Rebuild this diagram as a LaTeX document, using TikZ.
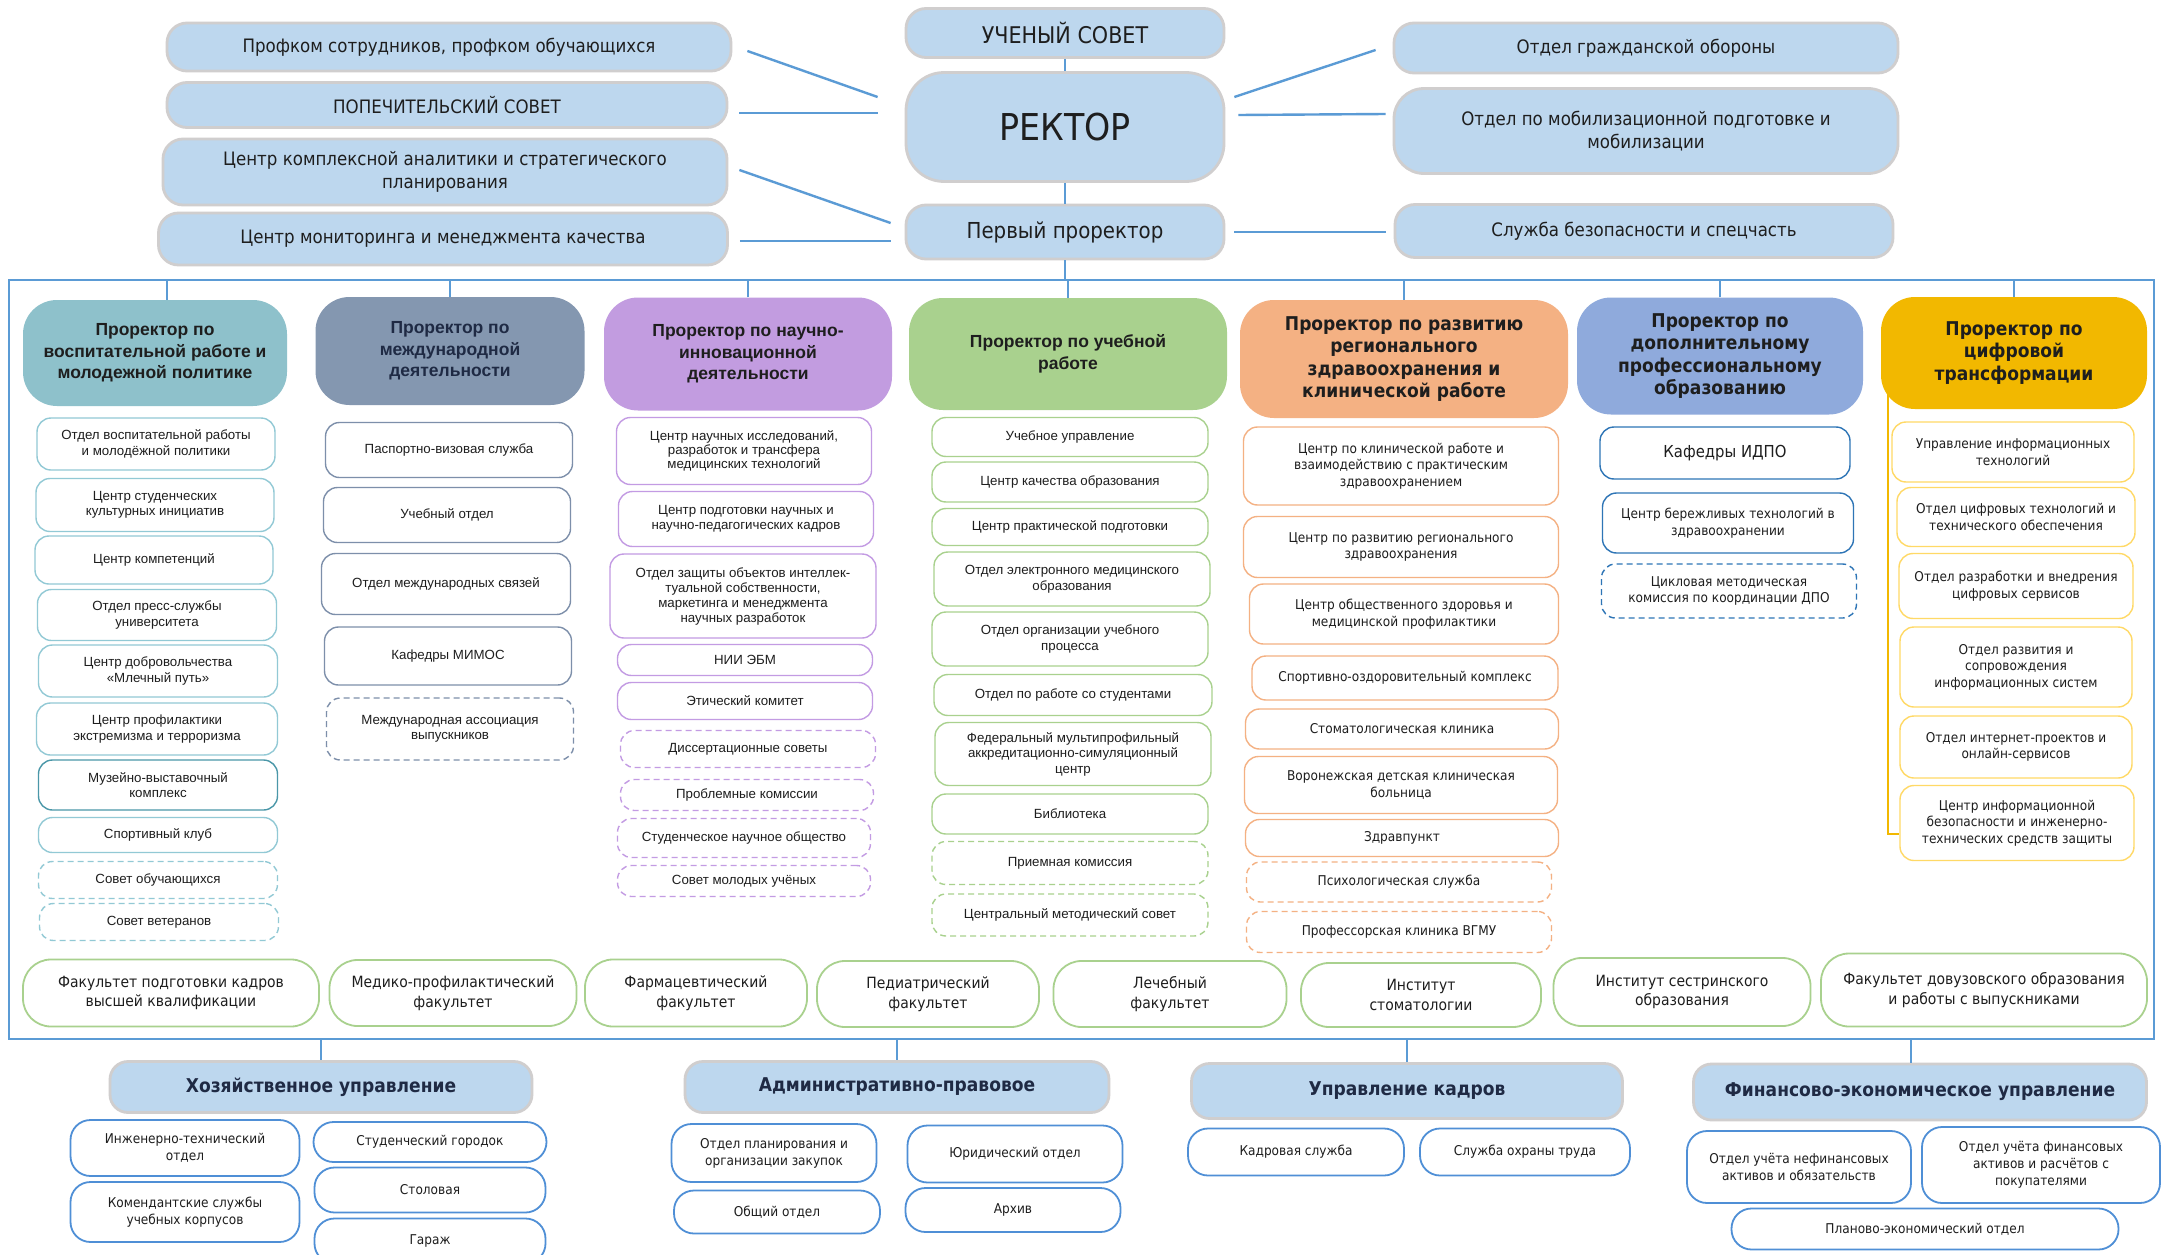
\documentclass[tikz,border=0pt]{standalone}
\usepackage{fontspec}
\newfontfamily\dvs{Liberation Sans}
\newfontfamily\dvc[FakeStretch=0.9]{DejaVu Sans}
\usetikzlibrary{calc}
\newcommand\fsz[2]{\fontsize{#1}{#2}\selectfont}
\definecolor{txt}{HTML}{1E1E1E}
\definecolor{topfill}{HTML}{BDD7EE}
\definecolor{topborder}{HTML}{D0CECE}
\definecolor{connblue}{HTML}{5B9BD5}
\definecolor{hA}{HTML}{8EC1CB}
\definecolor{hB}{HTML}{8497B0}
\definecolor{hC}{HTML}{C29CE0}
\definecolor{hD}{HTML}{A9D18E}
\definecolor{hE}{HTML}{F4B183}
\definecolor{hF}{HTML}{8FAADC}
\definecolor{hG}{HTML}{F2B800}
\definecolor{oA}{HTML}{92C9D5}
\definecolor{oAd}{HTML}{4A97A8}
\definecolor{oB}{HTML}{7D8FAA}
\definecolor{oC}{HTML}{C39BE3}
\definecolor{oD}{HTML}{A9D18E}
\definecolor{oE}{HTML}{F4B183}
\definecolor{oF}{HTML}{2E75B6}
\definecolor{oG}{HTML}{FFD966}
\definecolor{botline}{HTML}{4F8FD6}
\definecolor{navy}{HTML}{1F2A44}
\begin{document}
\begin{tikzpicture}[x=1pt,y=-1pt,
  sz/.style 2 args={minimum width=#1pt,minimum height=#2pt},
  topbox/.style={draw=topborder,line width=2.8pt,fill=topfill,rounded corners=20pt,align=center,inner sep=2pt,text=txt,font=\dvc\fsz{18.5}{22.5}},
  hdr/.style={fill=#1,draw=none,rounded corners=34pt,align=center,inner sep=2pt,text=txt},
  hdrL/.style={hdr=#1,font=\dvs\bfseries\fsz{17.5}{21.5}},
  hdrR/.style={hdr=#1,font=\dvc\bfseries\fsz{19}{22.6}},
  child/.style={draw=#1,fill=white,line width=1.4pt,rounded corners=14pt,align=center,inner sep=2pt,text=txt},
  chL/.style={child=#1,font=\dvs\fsz{13.3}{15.5}},
  chR/.style={child=#1,font=\dvc\fsz{13.5}{16.5}},
  dsh/.style={dash pattern=on 6pt off 4pt},
  fac/.style={draw=oD,fill=white,line width=1.8pt,rounded corners=28pt,align=center,inner sep=2pt,text=txt,font=\dvc\fsz{15.5}{19.5}},
  bhdr/.style={draw=topborder,line width=2.8pt,fill=topfill,rounded corners=18pt,align=center,inner sep=2pt,text=navy,font=\dvc\bfseries\fsz{19}{22}},
  bch/.style={draw=botline,fill=white,line width=1.8pt,rounded corners=20pt,align=center,inner sep=2pt,text=txt,font=\dvc\fsz{13.5}{17}},
  conn/.style={draw=connblue,line width=2.4pt},
  frame/.style={draw=connblue,line width=2.2pt},
  goldline/.style={draw=hG,line width=2.6pt}]
\useasboundingbox (0,0) rectangle (2161,1255);
\fill[white] (0,0) rectangle (2161,1255);

% ---------- top ----------
\node[topbox,sz={318}{49},font=\dvc\fsz{23}{27}] (uch) at (1065,33) {УЧЕНЫЙ СОВЕТ};
\node[topbox,sz={318}{109},rounded corners=38pt,font=\dvc\fsz{37}{40}] (rect) at (1065,127) {РЕКТОР};
\node[topbox,sz={318}{54},font=\dvc\fsz{22}{26}] (first) at (1065,232) {Первый проректор};

\node[topbox,sz={564}{48}] (profkom) at (449,47) {Профком сотрудников, профком обучающихся};
\node[topbox,sz={560}{45}] (popech) at (447,105) {ПОПЕЧИТЕЛЬСКИЙ СОВЕТ};
\node[topbox,sz={564}{66}] (analit) at (445,172) {Центр комплексной аналитики и стратегического\\планирования};
\node[topbox,sz={569}{52}] (monit) at (443,239) {Центр мониторинга и менеджмента качества};

\node[topbox,sz={504}{50}] (go) at (1646,48) {Отдел гражданской обороны};
\node[topbox,sz={504}{85},rounded corners=30pt] (mobil) at (1646,131) {Отдел по мобилизационной подготовке и\\мобилизации};
\node[topbox,sz={498}{53}] (secur) at (1644,231) {Служба безопасности и спецчасть};

\draw[conn] (uch.south) -- (rect.north);
\draw[conn] (rect.south) -- (first.north);
\draw[conn] ([xshift=15pt,yshift=-4pt]profkom.east) -- ([xshift=-27pt,yshift=30pt]rect.west);
\draw[conn] ([xshift=11pt,yshift=-8pt]popech.east) -- ([xshift=-27pt,yshift=14pt]rect.west);
\draw[conn] ([xshift=11pt,yshift=2pt]analit.east) -- ([xshift=-14pt,yshift=9pt]first.west);
\draw[conn] ([xshift=11pt,yshift=-2pt]monit.east) -- ([xshift=-14pt,yshift=-9pt]first.west);
\draw[conn] ([xshift=9pt,yshift=30pt]rect.east) -- ([xshift=-17pt,yshift=-2pt]go.west);
\draw[conn] ([xshift=13pt,yshift=12pt]rect.east) -- ([xshift=-7pt,yshift=17pt]mobil.west);
\draw[conn] ([xshift=9pt]first.east) -- ([xshift=-8pt,yshift=-1pt]secur.west);

% ---------- frame ----------
\coordinate (ftop) at (9,280);
\coordinate (fbot) at (2154,1039);
\draw[frame] (ftop) rectangle (fbot);
\draw[conn] (first.south) -- (first.south |- ftop);

% ---------- headers ----------
\node[hdrL=hA,sz={264}{106}] (h1) at (155,353) {Проректор по\\воспитательной работе и\\молодежной политике};
\node[hdrL=hB,sz={269}{108},text=navy] (h2) at (450,351) {Проректор по\\международной\\деятельности};
\node[hdrL=hC,sz={288}{113}] (h3) at (748,354) {Проректор по научно-\\инновационной\\деятельности};
\node[hdrL=hD,sz={318}{112}] (h4) at (1068,354) {Проректор по учебной\\работе};
\node[hdrR=hE,sz={328}{118}] (h5) at (1404,359) {Проректор по развитию\\регионального\\здравоохранения и\\клинической работе};
\node[hdrR=hF,sz={286}{117}] (h6) at (1720,356) {Проректор по\\дополнительному\\профессиональному\\образованию};
\node[hdrR=hG,sz={266}{112}] (h7) at (2014,353) {Проректор по\\цифровой\\трансформации};

\draw[conn] ([xshift=12pt]h1.north) -- ++(0,-20);
\foreach \h in {h2,h3,h4,h5,h6,h7} \draw[conn] (\h.north) -- (\h.north |- ftop);

% ---------- column 1 ----------
\node[chL=oA,sz={238}{52}] (c1a) at (156,444) {Отдел воспитательной работы\\и молодёжной политики};
\node[chL=oA,sz={238}{53}] (c1b) at (155,505) {Центр студенческих\\культурных инициатив};
\node[chL=oA,sz={238}{48}] (c1c) at (154,560) {Центр компетенций};
\node[chL=oA,sz={239}{51}] (c1d) at (157,615) {Отдел пресс-службы\\университета};
\node[chL=oA,sz={239}{52}] (c1e) at (158,671) {Центр добровольчества\\«Млечный путь»};
\node[chL=oA,sz={241}{52}] (c1f) at (157,729) {Центр профилактики\\экстремизма и терроризма};
\node[chL=oAd,sz={239}{50}] (c1g) at (158,785) {Музейно-выставочный\\комплекс};
\node[chL=oA,sz={239}{35}] (c1h) at (158,835) {Спортивный клуб};
\node[chL=oA,dsh,sz={239}{37}] (c1i) at (158,880) {Совет обучающихся};
\node[chL=oA,dsh,sz={239}{37}] (c1j) at (159,922) {Совет ветеранов};

% ---------- column 2 ----------
\node[chL=oB,sz={247}{55}] (c2a) at (449,450) {Паспортно-визовая служба};
\node[chL=oB,sz={247}{55}] (c2b) at (447,515) {Учебный отдел};
\node[chL=oB,sz={249}{61}] (c2c) at (446,584) {Отдел международных связей};
\node[chL=oB,sz={247}{58}] (c2d) at (448,656) {Кафедры МИМОС};
\node[chL=oB,dsh,sz={247}{62}] (c2e) at (450,729) {Международная ассоциация\\выпускников};

% ---------- column 3 ----------
\node[chL=oC,sz={255}{67},font=\dvs\fsz{13.3}{14}] (c3a) at (744,451) {Центр научных исследований,\\разработок и трансфера\\медицинских технологий};
\node[chL=oC,sz={255}{55}] (c3b) at (746,519) {Центр подготовки научных и\\научно-педагогических кадров};
\node[chL=oC,sz={266}{84},font=\dvs\fsz{13.3}{15}] (c3c) at (743,596) {Отдел защиты объектов интеллек-\\туальной собственности,\\маркетинга и менеджмента\\научных разработок};
\node[chL=oC,sz={255}{31}] (c3d) at (745,660) {НИИ ЭБМ};
\node[chL=oC,sz={255}{37}] (c3e) at (745,701) {Этический комитет};
\node[chL=oC,dsh,sz={255}{37}] (c3f) at (748,749) {Диссертационные советы};
\node[chL=oC,dsh,sz={253}{31}] (c3g) at (747,795) {Проблемные комиссии};
\node[chL=oC,dsh,sz={253}{39}] (c3h) at (744,838) {Студенческое научное общество};
\node[chL=oC,dsh,sz={253}{31}] (c3i) at (744,881) {Совет молодых учёных};

% ---------- column 4 ----------
\node[chL=oD,sz={276}{39}] (c4a) at (1070,437) {Учебное управление};
\node[chL=oD,sz={276}{40}] (c4b) at (1070,482) {Центр качества образования};
\node[chL=oD,sz={276}{37}] (c4c) at (1070,527) {Центр практической подготовки};
\node[chL=oD,sz={276}{54}] (c4d) at (1072,579) {Отдел электронного медицинского\\образования};
\node[chL=oD,sz={276}{54}] (c4e) at (1070,639) {Отдел организации учебного\\процесса};
\node[chL=oD,sz={278}{41}] (c4f) at (1073,695) {Отдел по работе со студентами};
\node[chL=oD,sz={276}{63}] (c4g) at (1073,754) {Федеральный мультипрофильный\\аккредитационно-симуляционный\\центр};
\node[chL=oD,sz={276}{40}] (c4h) at (1070,814) {Библиотека};
\node[chL=oD,dsh,sz={276}{43}] (c4i) at (1070,863) {Приемная комиссия};
\node[chL=oD,dsh,sz={276}{42}] (c4j) at (1070,915) {Центральный методический совет};

% ---------- column 5 ----------
\node[chR=oE,sz={315}{78}] (c5a) at (1401,466) {Центр по клинической работе и\\взаимодействию с практическим\\здравоохранением};
\node[chR=oE,sz={315}{61}] (c5b) at (1401,547) {Центр по развитию регионального\\здравоохранения};
\node[chR=oE,sz={309}{60}] (c5c) at (1404,614) {Центр общественного здоровья и\\медицинской профилактики};
\node[chR=oE,sz={306}{44}] (c5d) at (1405,678) {Спортивно-оздоровительный комплекс};
\node[chR=oE,sz={313}{40}] (c5e) at (1402,729) {Стоматологическая клиника};
\node[chR=oE,sz={313}{57}] (c5f) at (1401,785) {Воронежская детская клиническая\\больница};
\node[chR=oE,sz={313}{37}] (c5g) at (1402,838) {Здравпункт};
\node[chR=oE,dsh,sz={305}{40}] (c5h) at (1399,882) {Психологическая служба};
\node[chR=oE,dsh,sz={305}{41}] (c5i) at (1399,932) {Профессорская клиника ВГМУ};

% ---------- column 6 ----------
\node[chR=oF,sz={250}{52},font=\dvc\fsz{16.5}{19}] (c6a) at (1725,453) {Кафедры ИДПО};
\node[chR=oF,sz={251}{60}] (c6b) at (1728,523) {Центр бережливых технологий в\\здравоохранении};
\node[chR=oF,dsh,sz={255}{54}] (c6c) at (1729,591) {Цикловая методическая\\комиссия по координации ДПО};

% ---------- column 7 ----------
\node[chR=oG,sz={242}{60}] (c7a) at (2013,452) {Управление информационных\\технологий};
\node[chR=oG,sz={238}{59}] (c7b) at (2016,517) {Отдел цифровых технологий и\\технического обеспечения};
\node[chR=oG,sz={234}{65}] (c7c) at (2016,586) {Отдел разработки и внедрения\\цифровых сервисов};
\node[chR=oG,sz={232}{80}] (c7d) at (2016,667) {Отдел развития и\\сопровождения\\информационных систем};
\node[chR=oG,sz={232}{62}] (c7e) at (2016,747) {Отдел интернет-проектов и\\онлайн-сервисов};
\node[chR=oG,sz={234}{75}] (c7f) at (2017,823) {Центр информационной\\безопасности и инженерно-\\технических средств защиты};

\draw[goldline] ([xshift=7pt,yshift=15pt]h7.south west) |- ([yshift=-11pt]c7f.west);

% ---------- faculties ----------
\node[fac,sz={296}{67}] (f1) at (171,993) {Факультет подготовки кадров\\высшей квалификации};
\node[fac,sz={247}{66}] (f2) at (453,993) {Медико-профилактический\\факультет};
\node[fac,sz={222}{67}] (f3) at (696,993) {Фармацевтический\\факультет};
\node[fac,sz={222}{66}] (f4) at (928,994) {Педиатрический\\факультет};
\node[fac,sz={233}{66}] (f5) at (1170,994) {Лечебный\\факультет};
\node[fac,sz={240}{64}] (f6) at (1421,995) {Институт\\стоматологии};
\node[fac,sz={257}{68}] (f7) at (1682,992) {Институт сестринского\\образования};
\node[fac,sz={326}{73}] (f8) at (1984,990) {Факультет довузовского образования\\и работы с выпускниками};

% ---------- bottom ----------
\node[bhdr,sz={422}{51}] (b1) at (321,1087) {Хозяйственное управление};
\node[bhdr,sz={424}{51}] (b2) at (897,1087) {Административно-правовое};
\node[bhdr,sz={431}{55}] (b3) at (1407,1091) {Управление кадров};
\node[bhdr,sz={453}{56}] (b4) at (1920,1092) {Финансово-экономическое управление};

\draw[conn] (b1.north |- fbot) -- (b1.north);
\draw[conn] (b2.north |- fbot) -- (b2.north);
\draw[conn] (b3.north |- fbot) -- (b3.north);
\draw[conn] ([xshift=-9pt]b4.north) -- ++(0,-25);

\node[bch,sz={229}{56}] (hz1) at (185,1148) {Инженерно-технический\\отдел};
\node[bch,sz={229}{60}] (hz2) at (185,1212) {Комендантские службы\\учебных корпусов};
\node[bch,sz={233}{40}] (hz3) at (430,1142) {Студенческий городок};
\node[bch,sz={231}{45}] (hz4) at (430,1190) {Столовая};
\node[bch,sz={231}{45}] (hz5) at (430,1241) {Гараж};
\node[bch,sz={205}{58}] (ad1) at (774,1153) {Отдел планирования и\\организации закупок};
\node[bch,sz={206}{43}] (ad2) at (777,1212) {Общий отдел};
\node[bch,sz={215}{57}] (ad3) at (1015,1154) {Юридический отдел};
\node[bch,sz={215}{44}] (ad4) at (1013,1210) {Архив};
\node[bch,sz={216}{47}] (kd1) at (1296,1152) {Кадровая служба};
\node[bch,sz={210}{47}] (kd2) at (1525,1152) {Служба охраны труда};
\node[bch,sz={224}{72}] (fn1) at (1799,1167) {Отдел учёта нефинансовых\\активов и обязательств};
\node[bch,sz={238}{76}] (fn2) at (2041,1165) {Отдел учёта финансовых\\активов и расчётов с\\покупателями};
\node[bch,sz={387}{41}] (fn3) at (1925,1229) {Планово-экономический отдел};
\end{tikzpicture}
\end{document}
